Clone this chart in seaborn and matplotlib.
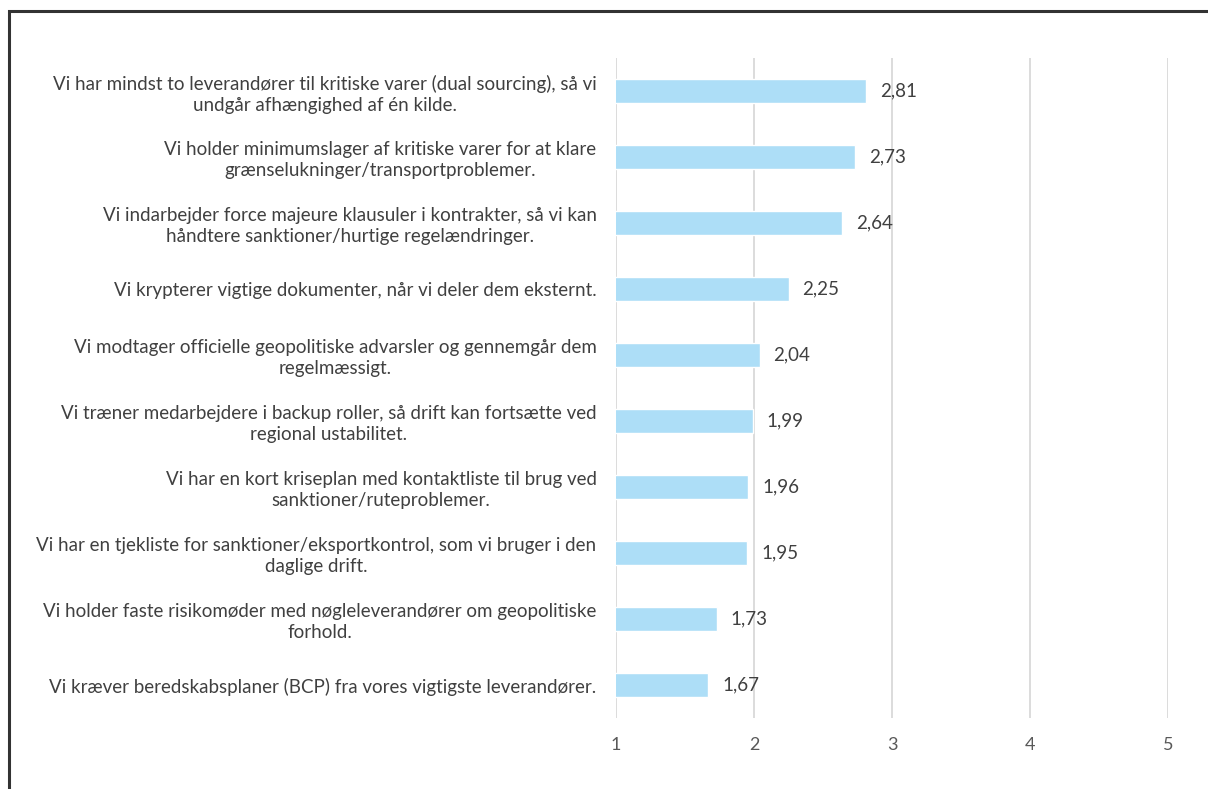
import matplotlib
matplotlib.use("Agg")
import matplotlib.pyplot as plt
import seaborn as sns
import pandas as pd
from matplotlib.patches import Rectangle

statements = [
    "Vi har mindst to leverandører til kritiske varer (dual sourcing), så vi\nundgår afhængighed af én kilde.",
    "Vi holder minimumslager af kritiske varer for at klare\ngrænselukninger/transportproblemer.",
    "Vi indarbejder force majeure klausuler i kontrakter, så vi kan\nhåndtere sanktioner/hurtige regelændringer.",
    "Vi krypterer vigtige dokumenter, når vi deler dem eksternt.",
    "Vi modtager officielle geopolitiske advarsler og gennemgår dem\nregelmæssigt.",
    "Vi træner medarbejdere i backup roller, så drift kan fortsætte ved\nregional ustabilitet.",
    "Vi har en kort kriseplan med kontaktliste til brug ved\nsanktioner/ruteproblemer.",
    "Vi har en tjekliste for sanktioner/eksportkontrol, som vi bruger i den\ndaglige drift.",
    "Vi holder faste risikomøder med nøgleleverandører om geopolitiske\nforhold.",
    "Vi kræver beredskabsplaner (BCP) fra vores vigtigste leverandører.",
]
scores = [2.81, 2.73, 2.64, 2.25, 2.04, 1.99, 1.96, 1.95, 1.73, 1.67]
x_ticks = [1, 2, 3, 4, 5]

df = pd.DataFrame({"statement": statements, "score": scores})

sns.set_theme(style="white")
plt.rcParams["font.family"] = ["Lato", "DejaVu Sans"]

fig = plt.figure(figsize=(12.08, 7.89), dpi=100)
ax = fig.add_axes([616 / 1208, 1 - 718 / 789, (1168 - 616) / 1208, (718 - 58) / 789])

sns.barplot(data=df, x="score", y="statement", orient="h", color="#ADDEF7",
            saturation=1, width=0.35, ax=ax)

ax.set_xlim(1, 5)
ax.set_ylim(len(statements) - 0.5, -0.5)
ax.set_xticks(x_ticks)
ax.set_xticklabels([str(t) for t in x_ticks])
ax.set_xlabel("")
ax.set_ylabel("")

# vertical gridlines
ax.grid(axis="x", color="#D9D9D9", linewidth=1.3)
ax.set_axisbelow(True)
for s in ax.spines.values():
    s.set_visible(False)

ax.tick_params(axis="x", length=0, pad=14, labelsize=13, labelcolor="#595959")
ax.tick_params(axis="y", length=0, pad=14, labelsize=13.5, labelcolor="#404040")
for lbl in ax.get_yticklabels():
    lbl.set_multialignment("center")
    lbl.set_linespacing(1.25)

labels = [f"{v:.2f}".replace(".", ",") for v in scores]
texts = ax.bar_label(ax.containers[0], labels=labels, padding=10, fontsize=13.5, color="#404040")

# outer frame of the chart area
fig.add_artist(Rectangle((9 / 1208, -0.1), 1.2, 1 - 11 / 789 + 0.1,
                         transform=fig.transFigure, fill=False,
                         edgecolor="#333333", linewidth=2.2))

fig.savefig("out.png", dpi=100)
